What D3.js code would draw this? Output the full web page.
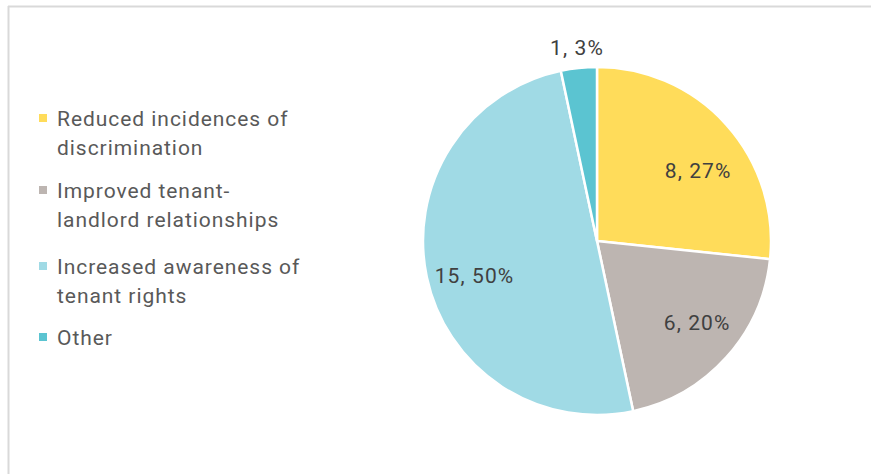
<!DOCTYPE html>
<html>
<head>
<meta charset="utf-8">
<script src="https://cdn.jsdelivr.net/npm/d3@7/dist/d3.min.js"></script>
<style>
  html, body { margin: 0; padding: 0; background: #fff; }
  svg { display: block; font-family: Roboto, "Noto Sans", sans-serif; }
</style>
</head>
<body>
<svg id="chart" width="871" height="474"></svg>
<script>
// ---- data ----
const categories = [
  "Reduced incidences of discrimination",
  "Improved tenant-landlord relationships",
  "Increased awareness of tenant rights",
  "Other"
];
const legendLines = [
  ["Reduced incidences of", "discrimination"],
  ["Improved tenant-", "landlord relationships"],
  ["Increased awareness of", "tenant rights"],
  ["Other"]
];
const values = [8, 6, 15, 1];
const colors = ["#FFDC5A", "#BDB5B1", "#A0DAE5", "#5BC4D1"];

// label placement (style): radius factor and pixel nudges
const labelRadius = [0.72, 0.72, 0.72, 1.10];
const labelNudge = [[8, 13], [7, -2], [0, 9], [0, -3]];

// ---- layout ----
const svg = d3.select("#chart");
const W = 871, H = 474;

// frame lines
svg.append("line").attr("x1", 8.5).attr("x2", 8.5).attr("y1", 6).attr("y2", H)
  .attr("stroke", "#d9d9d9").attr("stroke-width", 2);
svg.append("line").attr("x1", 8).attr("x2", W).attr("y1", 6.5).attr("y2", 6.5)
  .attr("stroke", "#d9d9d9").attr("stroke-width", 2);

const cx = 597, cy = 241, R = 174;
const total = d3.sum(values);
const pie = d3.pie().sort(null).value(d => d)(values);
const arc = d3.arc().innerRadius(0).outerRadius(R);

const g = svg.append("g").attr("transform", `translate(${cx},${cy})`);
g.selectAll("path.slice").data(pie).join("path")
  .attr("class", "slice")
  .attr("d", arc)
  .attr("fill", (d, i) => colors[i])
  .attr("stroke", "#fff")
  .attr("stroke-width", 2.5)
  .attr("stroke-linejoin", "round");

const fmt = d3.format(".0%");
g.selectAll("text.lbl").data(pie).join("text")
  .attr("class", "lbl")
  .attr("transform", (d, i) => {
    const a = (d.startAngle + d.endAngle) / 2;
    const r = R * labelRadius[i];
    const x = r * Math.sin(a) + labelNudge[i][0];
    const y = -r * Math.cos(a) + labelNudge[i][1];
    return `translate(${x},${y})`;
  })
  .attr("text-anchor", "middle")
  .attr("dy", "0.35em")
  .attr("font-size", 21)
  .attr("letter-spacing", 1.1)
  .attr("fill", "#404040")
  .text((d, i) => `${values[i]}, ${fmt(values[i] / total)}`);

// legend
const legend = svg.append("g");
const legTop = [126, 198, 274, 345];
const lineH = 29;
legendLines.forEach((lines, i) => {
  legend.append("rect")
    .attr("x", 39).attr("y", legTop[i] - 12)
    .attr("width", 8).attr("height", 8)
    .attr("fill", colors[i]);
  const t = legend.append("text")
    .attr("x", 57).attr("y", legTop[i])
    .attr("font-size", 21)
    .attr("letter-spacing", 0.95)
    .attr("fill", "#595959");
  lines.forEach((ln, j) => {
    t.append("tspan").attr("x", 57).attr("y", legTop[i] + j * lineH).text(ln);
  });
});
</script>
</body>
</html>
